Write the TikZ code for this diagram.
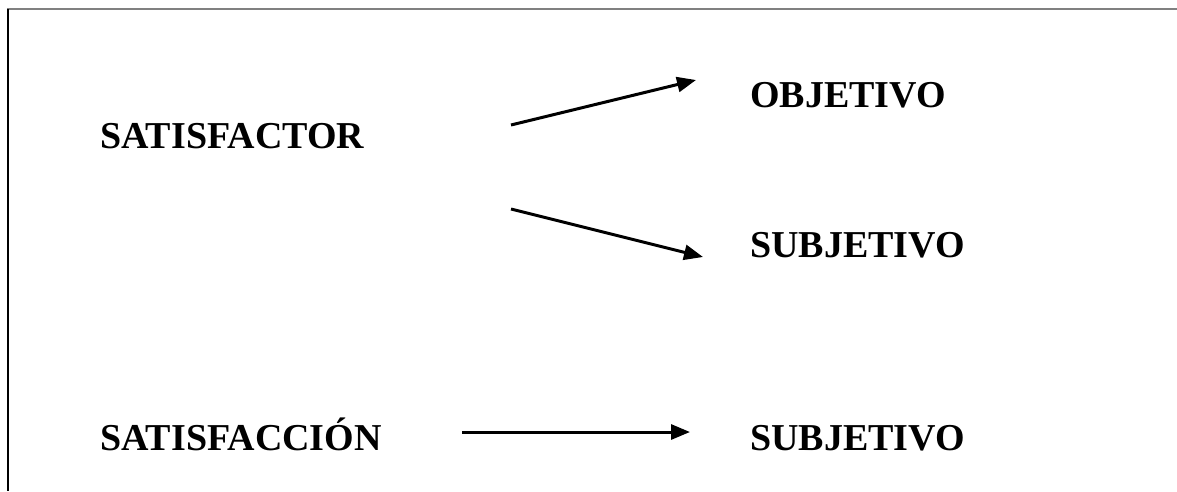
\documentclass[tikz,border=0pt]{standalone}
\usepackage{fontspec}
\setmainfont{Liberation Serif}
\usetikzlibrary{arrows.meta}
\tikzset{
  word/.style={anchor=base west,inner sep=0pt,font=\fontsize{38}{42}\selectfont\bfseries},
  link/.style={line width=3pt,-{Triangle[length=19pt,width=15pt]}}
}
\begin{document}
\begin{tikzpicture}[x=1pt,y=-1pt]
	\useasboundingbox (0,0) rectangle (1177,491);
	\draw[line width=2.5pt,gray] (7,9) -- (1177,9);
	\draw[line width=2pt] (8,9) -- (8,491);
	\node[word] at (100,148) (sf) {SATISFACTOR};
	\node[word] at (750,107) (obj) {OBJETIVO};
	\node[word] at (750,257) (sub) {SUBJETIVO};
	\node[word] at (100,450) (sc) {SATISFACCIÓN};
	\node[word] at (750,450) (sub2) {SUBJETIVO};
	\coordinate (a1) at (511,125);
	\coordinate (b1) at (696,80);
	\coordinate (a2) at (511,209);
	\coordinate (b2) at (703,257);
	\coordinate (a3) at (462,432);
	\coordinate (b3) at (690,432);
	\draw[link] (a1) -- (b1);
	\draw[link] (a2) -- (b2);
	\draw[link] (a3) -- (b3);
\end{tikzpicture}
\end{document}
